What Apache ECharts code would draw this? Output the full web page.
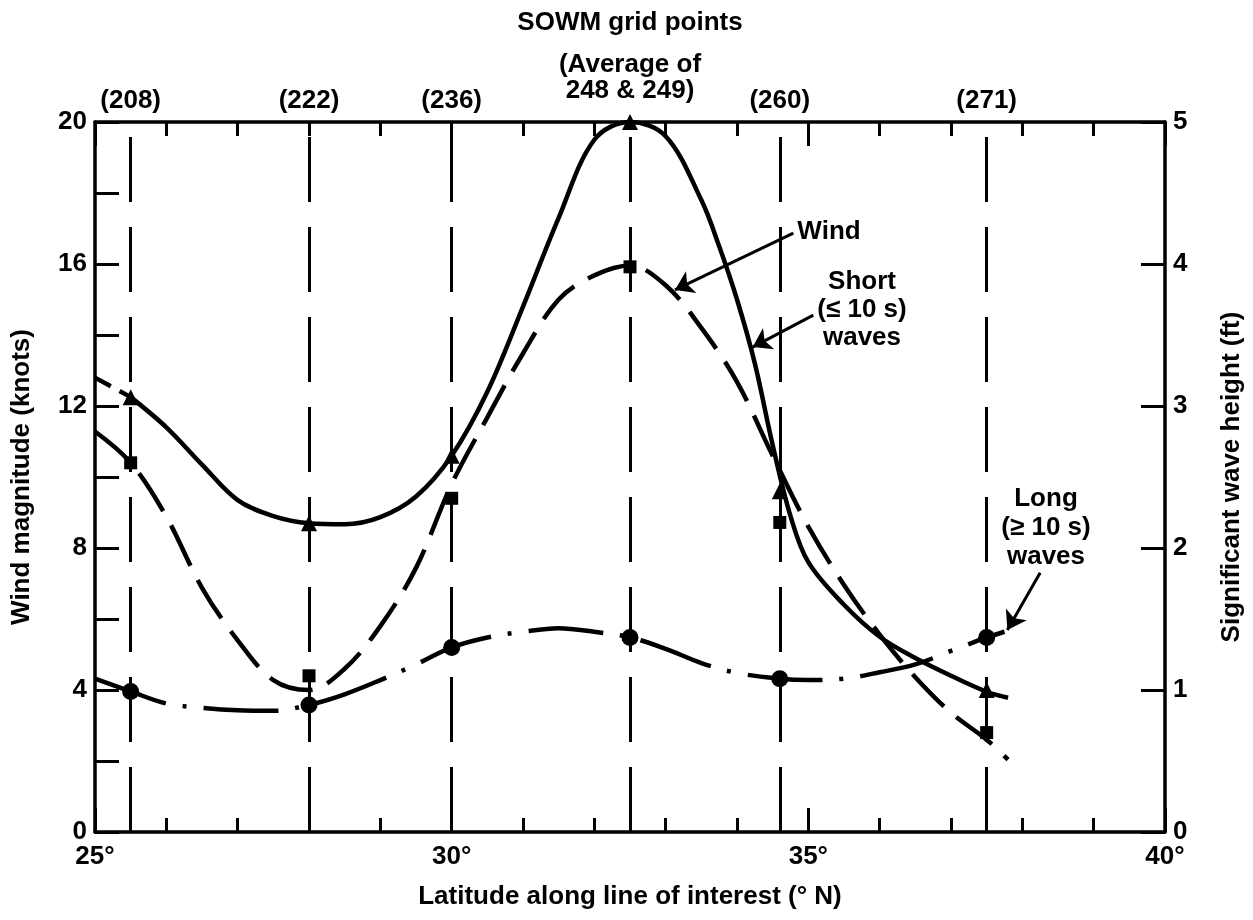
<!DOCTYPE html>
<html>
<head>
<meta charset="utf-8">
<script src="https://cdn.jsdelivr.net/npm/echarts@6/dist/echarts.min.js"></script>
<style>
  html, body { margin: 0; background: #fff; }
  #chart { width: 1253px; height: 920px; }
</style>
</head>
<body>
<div id="chart"></div>
<script>
// SOWM grid points along the line of interest
var gridLat = [25.5, 28.0, 30.0, 32.5, 34.6, 37.5];
var gridNames = ['(208)', '(222)', '(236)', '(Average of\n248 & 249)', '(260)', '(271)'];

// values at the grid points
var windKnots = [12.25, 8.7, 10.6, 20.0, 9.6, 4.0];
var shortFt = [2.6, 1.1, 2.35, 3.98, 2.18, 0.70];
var longFt = [0.99, 0.895, 1.3, 1.37, 1.08, 1.37];

// faired curves
var windLat = [25.5, 26, 26.5, 27, 27.5, 28, 28.5, 29, 29.5, 30, 30.5, 31, 31.5, 32, 32.5, 33, 33.5, 33.75, 34, 34.25, 34.5, 34.75, 35, 35.5, 36, 36.5, 37, 37.5, 37.8];
var windCurve = [12.25, 11.4, 10.35, 9.35, 8.9, 8.7, 8.67, 8.87, 9.45, 10.6, 12.4, 14.8, 17.3, 19.5, 20.0, 19.6, 17.8, 16.5, 15.0, 13.2, 10.9, 8.9, 7.6, 6.4, 5.5, 4.9, 4.4, 3.95, 3.78];
var windExtLat = [25.0, 25.5];
var windExt = [12.8, 12.25];

var shortLat = [25, 25.5, 26, 26.5, 27, 27.5, 28, 28.5, 29, 29.5, 30, 30.5, 31, 31.5, 32, 32.5, 33, 33.5, 34, 34.5, 35, 35.5, 36, 36.5, 37, 37.5, 37.8];
var shortCurve = [2.82, 2.6, 2.22, 1.72, 1.35, 1.07, 1.0, 1.15, 1.45, 1.86, 2.45, 2.92, 3.37, 3.75, 3.92, 3.99, 3.85, 3.55, 3.17, 2.65, 2.15, 1.74, 1.39, 1.09, 0.84, 0.65, 0.51];

var longLat = [25, 25.5, 26, 26.5, 27, 27.5, 28, 28.5, 29, 29.5, 30, 30.5, 31, 31.5, 32, 32.5, 33, 33.5, 34, 34.6, 35, 35.5, 36, 36.5, 37, 37.5, 37.75];
var longCurve = [1.08, 0.99, 0.905, 0.875, 0.857, 0.853, 0.895, 0.97, 1.07, 1.18, 1.30, 1.37, 1.41, 1.435, 1.41, 1.37, 1.29, 1.19, 1.12, 1.08, 1.07, 1.08, 1.125, 1.18, 1.275, 1.37, 1.41];

var font = 'Liberation Sans, Arial, Helvetica, sans-serif';
var txt = { color: '#000', fontFamily: font, fontWeight: 'bold', fontSize: 26 };

function pairs(xs, ys) {
  return xs.map(function (x, i) { return [x, ys[i]]; });
}

var chart = echarts.init(document.getElementById('chart'));

function xAxisAt(pos) {
  return {
    type: 'value', min: 25, max: 40, interval: 5, position: pos,
    splitLine: { show: false },
    axisLine: { show: true, onZero: false, lineStyle: { color: '#000', width: 3.5 } },
    axisTick: { show: true, inside: true, length: 24, lineStyle: { color: '#000', width: 3 } },
    minorTick: { show: true, splitNumber: 5, length: 14, lineStyle: { color: '#000', width: 3 } }
  };
}

var bottomAxis = xAxisAt('bottom');
bottomAxis.axisLabel = Object.assign({ formatter: '{value}°', margin: 12 }, txt);
bottomAxis.name = 'Latitude along line of interest (° N)';
bottomAxis.nameLocation = 'middle';
bottomAxis.nameGap = 52;
bottomAxis.nameTextStyle = txt;

var topAxis = xAxisAt('top');
topAxis.axisLabel = { show: false };

var option = {
  animation: false,
  backgroundColor: '#fff',
  grid: { left: 95, right: 88, top: 122, bottom: 88 },
  xAxis: [bottomAxis, topAxis],
  yAxis: [
    {
      type: 'value', min: 0, max: 20, interval: 4, position: 'left',
      splitLine: { show: false },
      axisLine: { show: true, onZero: false, lineStyle: { color: '#000', width: 3.5 } },
      axisTick: { show: true, inside: true, length: 24, lineStyle: { color: '#000', width: 3 } },
      minorTick: { show: true, splitNumber: 2, length: 24, lineStyle: { color: '#000', width: 3 } },
      axisLabel: Object.assign({ margin: 8 }, txt),
      name: 'Wind magnitude (knots)',
      nameLocation: 'middle', nameGap: 60, nameRotate: 90,
      nameTextStyle: txt
    },
    {
      type: 'value', min: 0, max: 5, interval: 1, position: 'right',
      splitLine: { show: false },
      axisLine: { show: true, onZero: false, lineStyle: { color: '#000', width: 3.5 } },
      axisTick: { show: true, inside: true, length: 24, lineStyle: { color: '#000', width: 3 } },
      axisLabel: Object.assign({ margin: 8 }, txt),
      name: 'Significant wave height (ft)',
      nameLocation: 'middle', nameGap: 54, nameRotate: 90,
      nameTextStyle: txt
    }
  ],
  graphic: [
    { type: 'text', x: 630, y: 23, style: Object.assign({ text: 'SOWM grid points', align: 'center', verticalAlign: 'middle' }, txt) },
    { type: 'text', x: 829, y: 232, style: Object.assign({ text: 'Wind', align: 'center', verticalAlign: 'middle' }, txt) },
    { type: 'text', x: 862, y: 310, style: Object.assign({ text: 'Short\n(≤ 10 s)\nwaves', align: 'center', verticalAlign: 'middle', lineHeight: 28 }, txt) },
    { type: 'text', x: 1046, y: 528, style: Object.assign({ text: 'Long\n(≥ 10 s)\nwaves', align: 'center', verticalAlign: 'middle', lineHeight: 29 }, txt) }
  ],
  series: [
    {
      name: 'Wind',
      type: 'line',
      xAxisIndex: 0, yAxisIndex: 0,
      data: pairs(windLat, windCurve),
      smooth: 0.35,
      showSymbol: false,
      lineStyle: { color: '#000', width: 4.5 },
      markLine: {
        silent: true,
        symbol: 'none',
        lineStyle: { color: '#000', width: 3, type: [65, 25] },
        label: Object.assign({ position: 'end', distance: 8, lineHeight: 26 }, txt),
        data: gridLat.map(function (x, i) {
          return {
            xAxis: x,
            label: { formatter: gridNames[i], distance: i === 3 ? 18 : 8 }
          };
        })
      }
    },
    {
      name: 'Wind (extended)',
      type: 'line',
      yAxisIndex: 0,
      data: pairs(windExtLat, windExt),
      showSymbol: false,
      lineStyle: { color: '#000', width: 4.5, type: [18, 10] }
    },
    {
      name: 'Short waves',
      type: 'line',
      yAxisIndex: 1,
      data: pairs(shortLat, shortCurve),
      smooth: 0.35,
      showSymbol: false,
      lineStyle: { color: '#000', width: 4.5, type: [45, 16] }
    },
    {
      name: 'Long waves',
      type: 'line',
      yAxisIndex: 1,
      data: pairs(longLat, longCurve),
      smooth: 0.35,
      showSymbol: false,
      lineStyle: { color: '#000', width: 4.5, type: [75, 17, 4, 17] }
    },
    {
      name: 'Wind points',
      type: 'scatter',
      yAxisIndex: 0,
      data: pairs(gridLat, windKnots),
      symbol: 'triangle',
      symbolSize: 16,
      itemStyle: { color: '#000', opacity: 1 },
      z: 5,
      markLine: {
        silent: true,
        symbol: ['none', 'arrow'],
        symbolSize: 18,
        lineStyle: { color: '#000', width: 3, type: 'solid' },
        label: { show: false },
        data: [
          [{ coord: [34.79, 16.87] }, { coord: [33.13, 15.27] }],
          [{ coord: [35.07, 14.56] }, { coord: [34.22, 13.66] }],
          [{ coord: [38.25, 7.3] }, { coord: [37.79, 5.69] }]
        ]
      }
    },
    {
      name: 'Short points',
      type: 'scatter',
      yAxisIndex: 1,
      data: pairs(gridLat, shortFt),
      symbol: 'rect',
      symbolSize: 13,
      itemStyle: { color: '#000', opacity: 1 },
      z: 5
    },
    {
      name: 'Long points',
      type: 'scatter',
      yAxisIndex: 1,
      data: pairs(gridLat, longFt),
      symbol: 'circle',
      symbolSize: 17,
      itemStyle: { color: '#000', opacity: 1 },
      z: 5
    }
  ]
};

chart.setOption(option);
</script>
</body>
</html>
